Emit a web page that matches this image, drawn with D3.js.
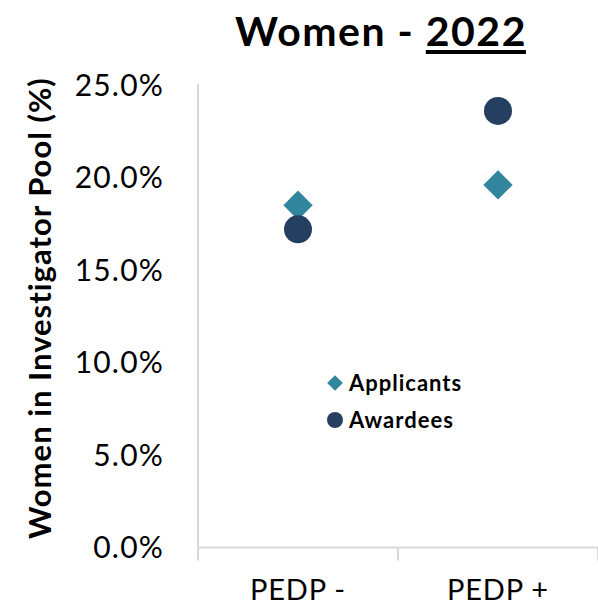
<!DOCTYPE html>
<html lang="en">
<head>
<meta charset="UTF-8">
<title>Women - 2022</title>
<script src="https://d3js.org/d3.v7.min.js"></script>
<style>
    body { margin: 0; background: #fff; }
    text { font-family: Lato, "Open Sans", sans-serif; }
</style>
</head>
<body>
<script>
    // data
    const categories = ['PEDP -', 'PEDP +'];
    const applicants = [18.5, 19.6];
    const awardees = [17.2, 23.6];
    const yTicks = [0, 5, 10, 15, 20, 25];

    const width = 598, height = 610;
    const margin = { top: 85, right: 0, bottom: 62, left: 198 };

    const svg = d3.select('body').append('svg')
        .attr('width', width)
        .attr('height', height);

    const x = d3.scaleBand()
        .domain(categories)
        .range([margin.left, width - margin.right]);

    const y = d3.scaleLinear()
        .domain([0, 25])
        .range([height - margin.bottom - 0.5, margin.top]);

    // y axis line
    svg.append('line')
        .attr('x1', margin.left).attr('x2', margin.left)
        .attr('y1', y(25) - 1).attr('y2', y(0))
        .attr('stroke', '#d9d9d9').attr('stroke-width', 2);

    // y tick labels
    svg.selectAll('.ylab')
        .data(yTicks)
        .enter().append('text')
        .attr('class', 'ylab')
        .attr('x', 164)
        .attr('y', d => y(d))
        .attr('dy', '0.35em')
        .attr('text-anchor', 'end')
        .attr('font-size', 30)
        .attr('letter-spacing', 1.2)
        .attr('fill', '#000')
        .text(d => d.toFixed(1) + '%');

    // x axis
    const xAxis = svg.append('g')
        .attr('transform', `translate(0,${y(0)})`);
    xAxis.append('line')
        .attr('x1', margin.left).attr('x2', width)
        .attr('stroke', '#d9d9d9').attr('stroke-width', 2);
    const edges = [margin.left, ...categories.map(c => x(c) + x.bandwidth())];
    xAxis.selectAll('.tick')
        .data(edges)
        .enter().append('line')
        .attr('x1', d => d).attr('x2', d => d)
        .attr('y1', 0).attr('y2', 13)
        .attr('stroke', '#d9d9d9').attr('stroke-width', 2);

    svg.selectAll('.xlab')
        .data(categories)
        .enter().append('text')
        .attr('x', d => x(d) + x.bandwidth() / 2)
        .attr('y', 600)
        .attr('text-anchor', 'middle')
        .attr('font-size', 29)
        .attr('letter-spacing', 0.8)
        .text(d => d);

    // y axis title
    svg.append('text')
        .attr('transform', 'translate(51,308) rotate(-90)')
        .attr('text-anchor', 'middle')
        .attr('font-size', 31)
        .attr('font-weight', 'bold')
        .attr('letter-spacing', 1)
        .text('Women in Investigator Pool (%)');

    // title
    const title = svg.append('text')
        .attr('x', 381).attr('y', 46)
        .attr('text-anchor', 'middle')
        .attr('font-size', 41)
        .attr('font-weight', 'bold')
        .attr('letter-spacing', 1.5);
    title.append('tspan').text('Women - ');
    title.append('tspan').text('2022');
    // thick underline under the year
    const tn = title.node();
    const n = tn.getNumberOfChars();
    const first = tn.getExtentOfChar(n - 4), last = tn.getExtentOfChar(n - 1);
    svg.append('line')
        .attr('x1', first.x).attr('x2', last.x + last.width - 1)
        .attr('y1', 52).attr('y2', 52)
        .attr('stroke', '#000').attr('stroke-width', 4);

    const cx = d => x(d) + x.bandwidth() / 2;

    // applicants (diamonds)
    svg.selectAll('.app')
        .data(categories)
        .enter().append('path')
        .attr('d', d3.symbol().type(d3.symbolDiamond2).size(550))
        .attr('transform', (d, i) => `translate(${cx(d)},${y(applicants[i])})`)
        .attr('fill', '#31859c');

    // awardees (circles)
    svg.selectAll('.awd')
        .data(categories)
        .enter().append('circle')
        .attr('cx', cx)
        .attr('cy', (d, i) => y(awardees[i]))
        .attr('r', 14)
        .attr('fill', '#243f60');

    // legend
    const legend = svg.append('g').attr('transform', 'translate(335,383)');
    legend.append('path')
        .attr('d', d3.symbol().type(d3.symbolDiamond2).size(156))
        .attr('fill', '#31859c');
    legend.append('text')
        .attr('x', 14).attr('dy', '0.35em')
        .attr('font-size', 22).attr('font-weight', 'bold')
        .attr('letter-spacing', 1)
        .text('Applicants');
    legend.append('circle')
        .attr('cy', 37).attr('r', 8)
        .attr('fill', '#243f60');
    legend.append('text')
        .attr('x', 14).attr('y', 37).attr('dy', '0.35em')
        .attr('font-size', 22).attr('font-weight', 'bold')
        .attr('letter-spacing', 1)
        .text('Awardees');
</script>
</body>
</html>
